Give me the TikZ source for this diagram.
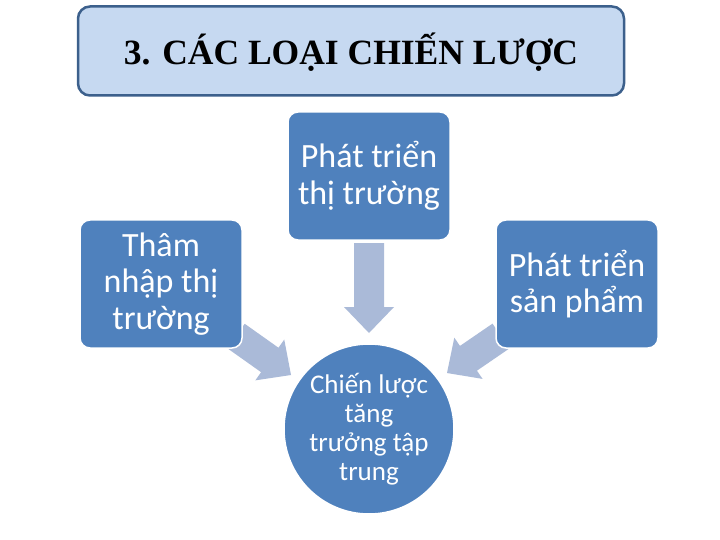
\documentclass[tikz,border=0pt]{standalone}
\usepackage{fontspec}
\setmainfont{Carlito}
\newfontfamily\titlefont{Liberation Serif}
\usetikzlibrary{calc}
\definecolor{boxblue}{RGB}{79,129,189}
\definecolor{arrowblue}{RGB}{170,186,216}
\definecolor{titlefill}{RGB}{198,217,241}
\definecolor{titleline}{RGB}{60,96,140}
\tikzset{
  catbox/.style={rectangle, rounded corners=10pt, fill=boxblue, draw=white, line width=1.5pt,
    minimum width=162pt, minimum height=128pt, text=white, align=center,
    font=\fontsize{34}{36.5}\selectfont, inner sep=0pt},
  corebox/.style={circle, fill=boxblue, draw=white, line width=1.5pt, minimum size=170pt,
    text=white, align=center, font=\fontsize{27}{29}\selectfont, inner sep=0pt},
  titlebox/.style={rectangle, rounded corners=12pt, fill=titlefill, draw=titleline, line width=2.5pt,
    minimum width=546pt, minimum height=89pt, font=\titlefont\bfseries\fontsize{35.5}{40}\selectfont, inner sep=0pt},
}
\newcommand\blockarr[3]{% tail, tip, name of head base
  \coordinate (#3) at ($(#2)!26pt!(#1)$);
  \fill[arrowblue] ($(#1)!15pt!90:(#2)$) -- ($(#3)!15pt!-90:(#1)$) -- ($(#3)!25pt!-90:(#1)$)
    -- (#2) -- ($(#3)!25pt!90:(#1)$) -- ($(#3)!15pt!90:(#1)$) -- ($(#1)!15pt!-90:(#2)$) -- cycle;}
\begin{document}
\begin{tikzpicture}[x=1pt,y=-1pt]
\useasboundingbox (0,0) rectangle (720,540);
\fill[white] (0,0) rectangle (720,540);
% block arrows
\coordinate (dtail) at (369,243);
\coordinate (dtip) at (369,333);
\coordinate (ltail) at (236,336);
\coordinate (ltip) at (291,375);
\coordinate (rtail) at (501,336);
\coordinate (rtip) at (447,373);
\blockarr{dtail}{dtip}{dhead}
\blockarr{ltail}{ltip}{lhead}
\blockarr{rtail}{rtip}{rhead}
% title
\node[titlebox] (title) at (351,51) {};
\node[font=\titlefont\bfseries\fontsize{35.5}{40}\selectfont, inner sep=0pt] (titletext) at (351,52) {3. CÁC LOẠI CHIẾN LƯỢC};
% boxes
\node[catbox] (mkt) at (369,176) {Phát triển\\thị trường};
\node[catbox] (pen) at (161,284) {Thâm\\nhập thị\\trường};
\node[catbox] (prod) at (577,284) {Phát triển\\sản phẩm};
\node[corebox] (core) at (369,429) {Chiến lược\\tăng\\trưởng tập\\trung};
\end{tikzpicture}
\end{document}
